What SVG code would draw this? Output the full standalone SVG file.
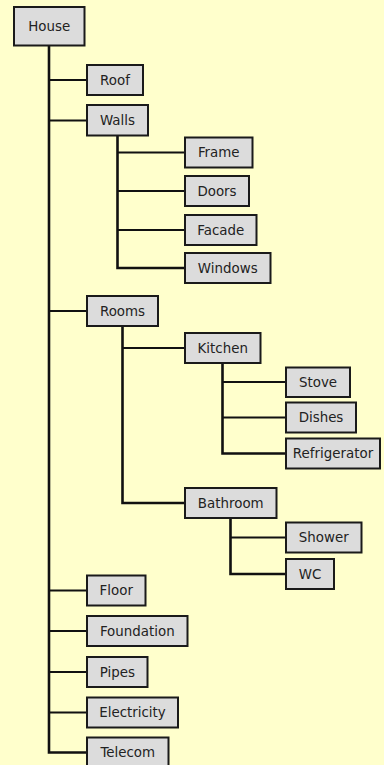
<svg xmlns="http://www.w3.org/2000/svg" width="384" height="765" viewBox="0 0 384 765">
<style>
.bg{fill:#ffffcc}
.n rect{fill:#dcdcdc;stroke:#1a1a1a;stroke-width:2}
.n text{font-family:"DejaVu Sans",Verdana,sans-serif;font-size:13.4px;fill:#222;text-anchor:middle;dominant-baseline:central}
.c path{fill:none;stroke:#111;stroke-width:2}
.c .t{stroke-width:2.6}
</style>
<rect class="bg" x="0" y="0" width="384" height="765"/>
<g class="c" id="connectors">
<path class="t" d="M49,46 V752.5 H86"/>
<path d="M49,80 H86 M49,120.5 H86 M49,311 H86 M49,590.5 H86 M49,631 H86 M49,672 H86 M49,712.5 H86"/>
<path class="t" d="M117.5,136 V268 H184"/>
<path d="M117.5,152.5 H184 M117.5,191 H184 M117.5,230 H184"/>
<path class="t" d="M122.5,327 V503 H184"/>
<path d="M122.5,348 H184"/>
<path class="t" d="M222.5,364 V453.5 H285"/>
<path d="M222.5,382 H285 M222.5,417.5 H285"/>
<path class="t" d="M230.5,519 V574 H285"/>
<path d="M230.5,537.5 H285"/>
</g>
<g class="n" id="house"><rect x="14" y="7" width="70.5" height="38.5"/><text x="49.25" y="26.5">House</text></g>
<g class="n" id="roof"><rect x="87" y="65" width="56" height="30"/><text x="115" y="80">Roof</text></g>
<g class="n" id="walls"><rect x="87" y="105" width="61" height="30.5"/><text x="117.5" y="120.5">Walls</text></g>
<g class="n" id="frame"><rect x="185" y="137.5" width="67.5" height="30"/><text x="218.75" y="152.5">Frame</text></g>
<g class="n" id="doors"><rect x="185" y="176" width="64" height="30"/><text x="217" y="191">Doors</text></g>
<g class="n" id="facade"><rect x="185" y="215" width="71.5" height="30"/><text x="220.75" y="230">Facade</text></g>
<g class="n" id="windows"><rect x="185" y="253" width="85.5" height="30"/><text x="227.75" y="268">Windows</text></g>
<g class="n" id="rooms"><rect x="87" y="296" width="71" height="30"/><text x="122.5" y="311">Rooms</text></g>
<g class="n" id="kitchen"><rect x="185" y="333" width="75.5" height="30"/><text x="222.75" y="348">Kitchen</text></g>
<g class="n" id="stove"><rect x="286" y="367.5" width="64" height="29.5"/><text x="318" y="382.25">Stove</text></g>
<g class="n" id="dishes"><rect x="286" y="402.5" width="70" height="30"/><text x="321" y="417.5">Dishes</text></g>
<g class="n" id="refrigerator"><rect x="286" y="438.5" width="94" height="30"/><text x="333" y="453.5">Refrigerator</text></g>
<g class="n" id="bathroom"><rect x="185" y="488" width="91.5" height="30"/><text x="230.75" y="503">Bathroom</text></g>
<g class="n" id="shower"><rect x="286" y="522.5" width="75.5" height="30"/><text x="323.75" y="537.5">Shower</text></g>
<g class="n" id="wc"><rect x="286" y="559" width="48" height="30"/><text x="310" y="574">WC</text></g>
<g class="n" id="floor"><rect x="87" y="575.5" width="58.5" height="30"/><text x="116.25" y="590.5">Floor</text></g>
<g class="n" id="foundation"><rect x="87" y="616" width="100.5" height="30"/><text x="137.25" y="631">Foundation</text></g>
<g class="n" id="pipes"><rect x="87" y="657" width="60.5" height="30"/><text x="117.25" y="672">Pipes</text></g>
<g class="n" id="electricity"><rect x="87" y="697.5" width="91" height="30"/><text x="132.5" y="712.5">Electricity</text></g>
<g class="n" id="telecom"><rect x="87" y="737.5" width="81.5" height="30"/><text x="127.75" y="752.5">Telecom</text></g>
</svg>
